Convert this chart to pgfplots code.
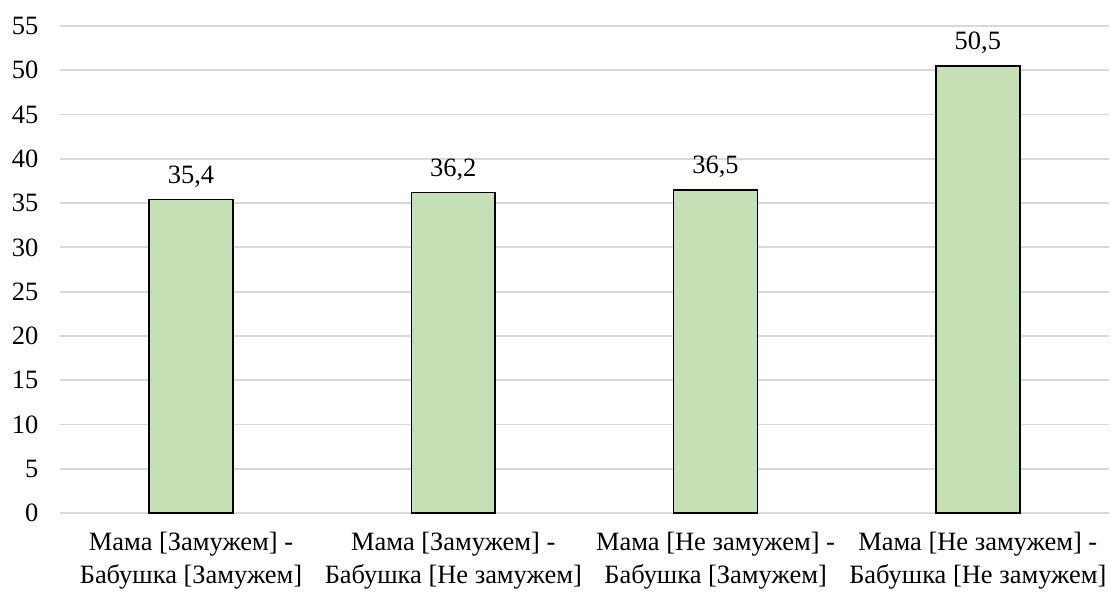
\documentclass[border=0pt]{standalone}
\usepackage{fontspec}
\setmainfont{Liberation Serif}
\usepackage{pgfplots}
\pgfplotsset{compat=1.18}
\definecolor{barfill}{HTML}{C5E0B4}
\definecolor{gridc}{HTML}{D9D9D9}
\begin{document}
\begin{tikzpicture}
\begin{axis}[
  name=ax,
  at={(0,0)}, anchor=south west,
  scale only axis,
  width=1051pt, height=488pt,
  xmin=-0.5, xmax=3.5,
  ymin=0, ymax=55,
  ytick={0,5,...,55},
  xtick={0,1,2,3},
  xticklabels={{Мама [Замужем] -\\Бабушка [Замужем]},{Мама [Замужем] -\\Бабушка [Не замужем]},{Мама [Не замужем] -\\Бабушка [Замужем]},{Мама [Не замужем] -\\Бабушка [Не замужем]}},
  xticklabel style={align=center, font=\fontsize{26.5}{33}\selectfont, yshift=-16pt},
  yticklabel style={font=\fontsize{26.5}{30}\selectfont, xshift=-18pt},
  /pgf/number format/assume math mode=true,
  axis line style={draw=none},
  major tick length=0pt,
  ymajorgrids,
  grid style={gridc, line width=1.8pt},
  bar width=84pt,
  nodes near coords,
  nodes near coords style={font=\fontsize{26.5}{30}\selectfont, anchor=south, yshift=8pt,
     /pgf/number format/.cd, fixed, fixed zerofill, precision=1, use comma},
  clip=false,
]
\addplot[ybar, fill=barfill, draw=black, line width=1.5pt] coordinates {(0,35.4) (1,36.2) (2,36.5) (3,50.5)};
\end{axis}
\pgfresetboundingbox
\path (ax.south west) ++(-60pt,-80pt) coordinate (a);
\path (ax.south west) ++(1053pt,514pt) coordinate (b);
\useasboundingbox (a) rectangle (b);
\end{tikzpicture}
\end{document}
